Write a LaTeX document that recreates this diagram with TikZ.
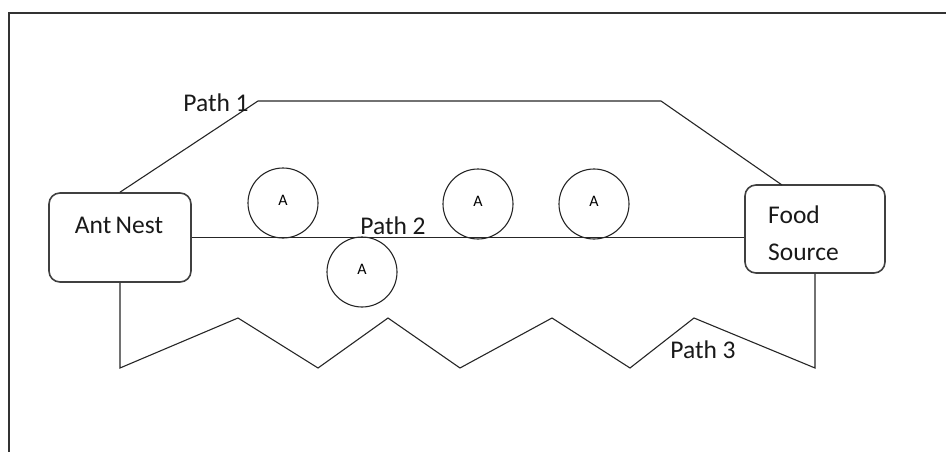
\documentclass[tikz,border=0pt]{standalone}
\usepackage{fontspec}
\setmainfont{Carlito}
\begin{document}
\begin{tikzpicture}[x=1pt,y=-1pt,
  box/.style={draw=black!75,line width=1.6pt,rounded corners=11pt,minimum width=142pt,minimum height=89pt,inner sep=0pt},
  ant/.style={draw=black!85,line width=1.1pt,circle,minimum size=70pt,inner sep=0pt,font=\fontsize{16}{16}\selectfont,text depth=6pt},
  lbl/.style={font=\fontsize{25.5}{30}\selectfont,inner sep=0pt,text=black!90},
  pathline/.style={draw=black!85,line width=1.1pt}]
\useasboundingbox (0,0) rectangle (946,452);
\draw[line width=1.6pt,black!80] (9,452) -- (9,13) -- (946,13);
% boxes
\node[box] (nest) at (120,237.5) {};
\node[lbl] (nestt) at (119,225) {Ant\,Nest};
\node[box,minimum width=140pt,minimum height=88pt] (food) at (815,229) {};
\node[lbl,anchor=west] (foodt1) at (768,215) {Food};
\node[lbl,anchor=west] (foodt2) at (768,252) {Source};
% ants
\node[ant] (a1) at (283,203) {A};
\node[ant] (a2) at (362,272) {A};
\node[ant] (a3) at (478,204) {A};
\node[ant] (a4) at (594,204) {A};
% path 1
\coordinate (p1a) at (258,101);
\coordinate (p1b) at (661,101);
\coordinate (p1c) at (782,185);
\draw[pathline] (nest.north) -- (p1a) -- (p1b) -- (p1c);
% path 2
\draw[pathline] (nest.east) -- (nest.east -| food.west);
% path 3
\coordinate (z0) at (120,368);
\coordinate (z1) at (238,318);
\coordinate (z2) at (318,368);
\coordinate (z3) at (388,318);
\coordinate (z4) at (460,368);
\coordinate (z5) at (552,318);
\coordinate (z6) at (630,368);
\coordinate (z7) at (694,318);
\coordinate (z8) at (815,368);
\draw[pathline,line join=miter] (nest.south) -- (z0) -- (z1) -- (z2) -- (z3) -- (z4) -- (z5) -- (z6) -- (z7) -- (z8) -- (food.south);
% labels
\node[lbl] (l1) at (216,103) {Path 1};
\node[lbl] (l2) at (393,226) {Path 2};
\node[lbl] (l3) at (703,350) {Path 3};
\end{tikzpicture}
\end{document}
